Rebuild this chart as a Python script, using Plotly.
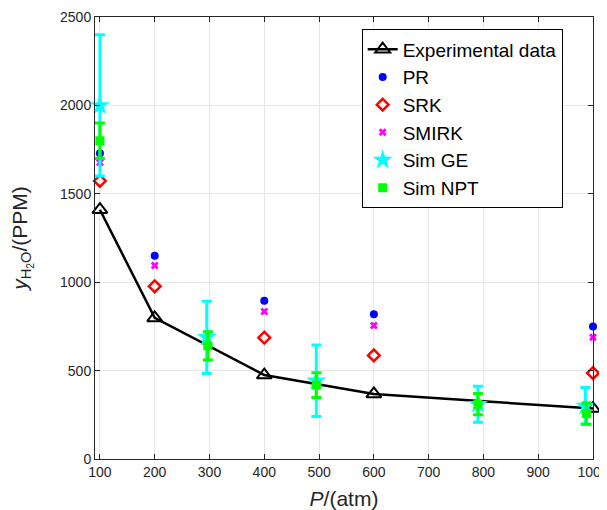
import plotly.graph_objects as go

# Data
exp_p = [100, 200, 400, 600, 1000]
exp_y = [1410, 798, 475, 368, 285]

eos_p = [100, 200, 400, 600, 1000]
pr_y = [1730, 1150, 895, 819, 749]
srk_y = [1573, 977, 686, 586, 486]
smirk_y = [1677, 1094, 834, 755, 689]

ge_p = [100, 295, 495, 790, 986]
ge_y = [2000, 688, 443, 310, 300]
ge_err = [400, 204, 202, 102, 104]

npt_p = [100, 297, 495, 790, 988]
npt_y = [1800, 640, 418, 310, 257]
npt_err = [100, 80, 70, 60, 60]

x_ticks = [100, 200, 300, 400, 500, 600, 700, 800, 900, 1000]
y_ticks = [0, 500, 1000, 1500, 2000, 2500]

fig = go.Figure()

fig.add_trace(go.Scatter(
    x=exp_p, y=exp_y, mode="lines+markers", name="Experimental data",
    line=dict(color="black", width=2.5),
    marker=dict(symbol="triangle-up-open", size=13, color="black", line=dict(width=2)),
    cliponaxis=False,
))
fig.add_trace(go.Scatter(
    x=eos_p, y=pr_y, mode="markers", name="PR",
    marker=dict(symbol="circle", size=8, color="blue"),
    cliponaxis=False,
))
fig.add_trace(go.Scatter(
    x=eos_p, y=srk_y, mode="markers", name="SRK",
    marker=dict(symbol="diamond-open", size=9, color="red", line=dict(width=2.5)),
    cliponaxis=False,
))
fig.add_trace(go.Scatter(
    x=eos_p, y=smirk_y, mode="markers", name="SMIRK",
    marker=dict(symbol="x", size=7, color="magenta", line=dict(width=0)),
    cliponaxis=False,
))
fig.add_trace(go.Scatter(
    x=ge_p, y=ge_y, mode="markers", name="Sim GE",
    marker=dict(symbol="star", size=15, color="cyan", line=dict(width=0)),
    error_y=dict(type="data", array=ge_err, color="cyan", thickness=3, width=5),
    cliponaxis=False,
))
fig.add_trace(go.Scatter(
    x=npt_p, y=npt_y, mode="markers", name="Sim NPT",
    marker=dict(symbol="square", size=9, color="#00ff00", line=dict(width=0)),
    error_y=dict(type="data", array=npt_err, color="#00ff00", thickness=3, width=5),
    cliponaxis=False,
))

axis_common = dict(
    showline=True, linecolor="#262626", linewidth=1, mirror="ticks",
    ticks="inside", ticklen=5, tickcolor="#262626",
    showgrid=True, gridcolor="#e6e6e6", gridwidth=1,
    zeroline=False, automargin=False,
    ticklabeloverflow="allow",
    tickfont=dict(family="Liberation Sans", size=14, color="#262626"),
)

fig.update_layout(
    width=599, height=502,
    margin=dict(l=87, r=14, t=9, b=51),
    paper_bgcolor="white", plot_bgcolor="white",
    font=dict(family="Liberation Sans", color="#262626"),
    showlegend=True,
    legend=dict(
        x=0.5355, y=0.972, xanchor="left", yanchor="top",
        bordercolor="black", borderwidth=1, bgcolor="white",
        font=dict(family="Liberation Sans", size=19, color="black"),
        tracegroupgap=0, itemsizing="trace",
    ),
    xaxis=dict(
        range=[91, 1000], tickvals=x_ticks,
        title=dict(text="<i>P</i>/(atm)", font=dict(size=21, color="#262626"), standoff=12),
        **axis_common,
    ),
    yaxis=dict(
        range=[0, 2500], tickvals=y_ticks,
        title=dict(text="<i>y</i><sub>H<sub>2</sub>O</sub>/(PPM)", font=dict(size=21, color="#262626"), standoff=27),
        **axis_common,
    ),
)

fig.write_html("out.html")
